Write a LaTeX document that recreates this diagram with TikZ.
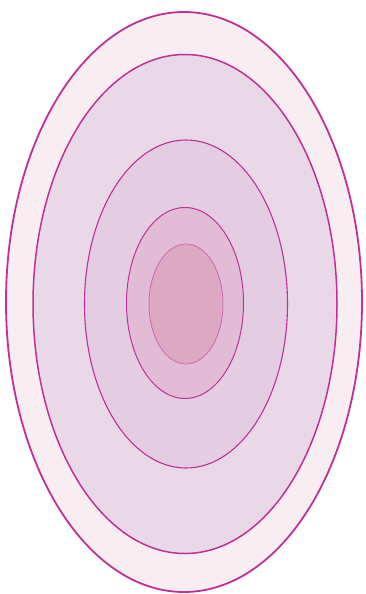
\documentclass[tikz,border=0pt]{standalone}
\usepackage{tikz}
\usetikzlibrary{shapes.geometric}
\definecolor{ringline}{RGB}{192,48,150}
\definecolor{ringA}{RGB}{248,238,242}
\definecolor{ringB}{RGB}{232,216,232}
\definecolor{ringC}{RGB}{228,204,226}
\definecolor{ringD}{RGB}{226,188,214}
\definecolor{ringE}{RGB}{220,168,194}
\tikzset{
    ring/.style={ellipse, draw=ringline, inner sep=0pt, line width=1.1pt}
}

\begin{document}
\begin{tikzpicture}[x=1pt,y=-1pt]
    \useasboundingbox (0,0) rectangle (366,594);
    \node[ring, fill=ringA, line width=1.8pt, minimum width=356, minimum height=580] (outer) at (184,302) {};
    \node[ring, fill=ringB, line width=1.5pt, minimum width=304, minimum height=499] (second) at (185,304) {};
    \node[ring, fill=ringC, minimum width=203, minimum height=328] (third) at (186,304) {};
    \node[ring, fill=ringD, line width=1pt, minimum width=117, minimum height=191] (fourth) at (185,303) {};
    \node[ring, fill=ringE, draw=ringline!75, line width=0.8pt, minimum width=74, minimum height=120] (inner) at (186,304) {};
\end{tikzpicture}
\end{document}
